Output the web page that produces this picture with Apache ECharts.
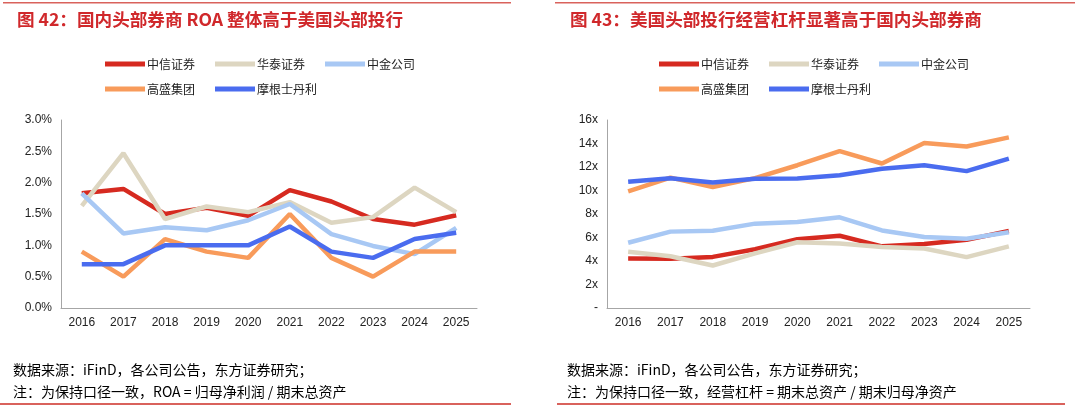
<!DOCTYPE html>
<html>
<head>
<meta charset="utf-8">
<script src="https://cdn.jsdelivr.net/npm/echarts@6/dist/echarts.min.js"></script>
<style>
html,body{margin:0;padding:0;background:#fff;}
#chart{width:1080px;height:408px;}
</style>
</head>
<body>
<div id="chart"></div>
<script>
var years = ['2016','2017','2018','2019','2020','2021','2022','2023','2024','2025'];
var names = ['中信证券','华泰证券','中金公司','高盛集团','摩根士丹利'];
var colors = ['#d62a20','#ddd6c1','#a8c8f4','#f89b5b','#4a6cef'];

// 图42 ROA (%)
var roaCitic = [1.83,1.90,1.50,1.60,1.47,1.88,1.70,1.42,1.33,1.48];
var roaHtsc  = [1.63,2.47,1.42,1.62,1.53,1.69,1.36,1.45,1.92,1.53];
var roaCicc  = [1.83,1.19,1.29,1.24,1.40,1.66,1.18,0.99,0.86,1.28];
var roaGs    = [0.90,0.50,1.10,0.90,0.80,1.50,0.80,0.50,0.90,0.90];
var roaMs    = [0.70,0.70,1.00,1.00,1.00,1.30,0.90,0.80,1.10,1.20];

// 图43 经营杠杆 (x)
var levCitic = [4.22,4.20,4.35,5.00,5.85,6.15,5.25,5.45,5.80,6.55];
var levHtsc  = [4.78,4.40,3.62,4.65,5.60,5.48,5.20,5.07,4.33,5.25];
var levCicc  = [5.55,6.50,6.58,7.18,7.32,7.72,6.60,6.05,5.90,6.45];
var levGs    = [9.93,11.10,10.30,11.05,12.15,13.35,12.30,14.05,13.75,14.52];
var levMs    = [10.75,11.05,10.68,11.00,11.02,11.30,11.85,12.15,11.65,12.72];

var roaData = [roaCitic, roaHtsc, roaCicc, roaGs, roaMs];
var levData = [levCitic, levHtsc, levCicc, levGs, levMs];

var chart = echarts.init(document.getElementById('chart'));
var font = '"Noto Sans CJK SC", "Liberation Sans", sans-serif';
var axisGray = '#a6a6a6';

function xAxis(grid) {
    return {
        type: 'category', gridIndex: grid, data: years, boundaryGap: true,
        axisLine: {lineStyle: {color: axisGray, width: 1}},
        axisTick: {inside: true, length: 4, lineStyle: {color: axisGray}},
        axisLabel: {color: '#222', fontSize: 12, fontFamily: 'Liberation Sans', margin: 9}
    };
}
function yAxis(grid, max, interval, fmt) {
    return {
        type: 'value', gridIndex: grid, min: 0, max: max, interval: interval,
        axisLine: {show: true, lineStyle: {color: axisGray, width: 1}},
        axisTick: {show: false},
        splitLine: {show: false},
        axisLabel: {color: '#222', fontSize: 12, fontFamily: 'Liberation Sans', margin: 9, formatter: fmt}
    };
}
function legend(left, top, list) {
    return {
        left: left, top: top, itemWidth: 40, itemHeight: 5, itemGap: 20,
        textStyle: {fontSize: 12, fontFamily: font, color: '#222', padding: [0, 0, 0, -3]},
        data: list.map(function(n){ return {name: n, icon: 'path://M0,0 L40,0 L40,5 L0,5 Z'}; })
    };
}

var series = [];
names.forEach(function(n, i) {
    series.push({name: n, type: 'line', xAxisIndex: 0, yAxisIndex: 0, data: roaData[i],
        symbol: 'none', lineStyle: {width: 4.5, color: colors[i]}, itemStyle: {color: colors[i]}});
    series.push({name: n, type: 'line', xAxisIndex: 1, yAxisIndex: 1, data: levData[i],
        symbol: 'none', lineStyle: {width: 4.5, color: colors[i]}, itemStyle: {color: colors[i]}});
});

var titleStyle = {fontSize: 17.6, fontWeight: 'bold', color: '#d0282b', fontFamily: font};
var noteStyle = {fontSize: 14, color: '#8a8a8a', fontFamily: font};

chart.setOption({
    animation: false,
    title: [
        {text: '图 42：国内头部券商 ROA 整体高于美国头部投行', left: 12, top: 6, textStyle: titleStyle},
        {text: '图 43：美国头部投行经营杠杆显著高于国内头部券商', left: 565, top: 6, textStyle: titleStyle}
    ],
    legend: [
        legend(100, 53, names.slice(0, 3)),
        legend(100, 78, names.slice(3)),
        legend(654, 53, names.slice(0, 3)),
        legend(654, 78, names.slice(3))
    ],
    grid: [
        {left: 61, top: 120, width: 416, height: 188},
        {left: 607, top: 120, width: 423, height: 188}
    ],
    xAxis: [xAxis(0), xAxis(1)],
    yAxis: [
        yAxis(0, 3.0, 0.5, function(v){ return v.toFixed(1) + '%'; }),
        yAxis(1, 16, 2, function(v){ return v === 0 ? '-' : v + 'x'; })
    ],
    series: series,
    graphic: [
        {type: 'rect', shape: {x: 3, y: 2, width: 508, height: 1.5}, style: {fill: '#d9625c'}},
        {type: 'rect', shape: {x: 555, y: 2, width: 520, height: 1.5}, style: {fill: '#d9625c'}},
        {type: 'rect', shape: {x: 0, y: 403, width: 511, height: 2}, style: {fill: '#d9625c'}},
        {type: 'rect', shape: {x: 557, y: 403, width: 508, height: 2}, style: {fill: '#d9625c'}},
        {type: 'text', left: 13, top: 363, style: Object.assign({text: '数据来源：iFinD，各公司公告，东方证券研究；'}, noteStyle)},
        {type: 'text', left: 13, top: 385, style: Object.assign({text: '注：为保持口径一致，ROA = 归母净利润 / 期末总资产'}, noteStyle)},
        {type: 'text', left: 567, top: 363, style: Object.assign({text: '数据来源：iFinD，各公司公告，东方证券研究；'}, noteStyle)},
        {type: 'text', left: 567, top: 385, style: Object.assign({text: '注：为保持口径一致，经营杠杆 = 期末总资产 / 期末归母净资产'}, noteStyle)}
    ]
});
</script>
</body>
</html>
